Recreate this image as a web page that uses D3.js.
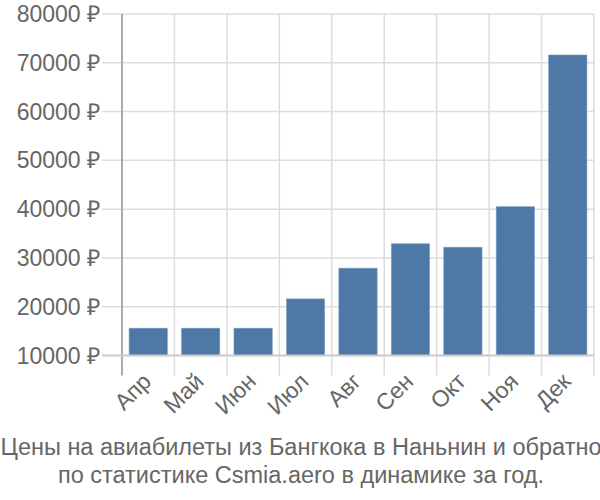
<!DOCTYPE html>
<html><head><meta charset="utf-8">
<script src="https://cdn.jsdelivr.net/npm/d3@7"></script>
<style>body{margin:0;background:#fff}text{font-family:"Liberation Sans",Arial,sans-serif}</style>
</head><body><svg id="c" width="600" height="500"></svg>
<script>
const months = ["Апр","Май","Июн","Июл","Авг","Сен","Окт","Ноя","Дек"];
const prices = [15600, 15600, 15600, 21600, 27900, 32900, 32200, 40500, 71600];
const yTicks = [10000, 20000, 30000, 40000, 50000, 60000, 70000, 80000];
const titleLines = ["Цены на авиабилеты из Бангкока в Наньнин и обратно", "по статистике Csmia.aero в динамике за год."];

const svg = d3.select("#c");
const L = 122, R = 594, T = 14, B = 355.5;
const x = d3.scaleBand().domain(months).range([L, R]).paddingInner(0.27).paddingOuter(0.135);
const y = d3.scaleLinear().domain([10000, 80000]).range([B, T]);
const grid = "#dddddd", txt = "#666666";

svg.append("g").selectAll("line").data(yTicks).join("line")
  .attr("x1", 102).attr("x2", R).attr("y1", d => y(d)).attr("y2", d => y(d))
  .attr("stroke", grid).attr("stroke-width", 1.5);
const bounds = months.map(m => x(m) - x.step()*x.paddingInner()/2).slice(1).concat([R]);
svg.append("g").selectAll("line").data(bounds).join("line")
  .attr("x1", d => d).attr("x2", d => d).attr("y1", T).attr("y2", B + 20)
  .attr("stroke", grid).attr("stroke-width", 1.5);

svg.append("g").selectAll("rect").data(prices).join("rect")
  .attr("x", (d, i) => x(months[i])).attr("width", x.bandwidth())
  .attr("y", d => y(d)).attr("height", d => B - y(d))
  .attr("fill", "#4e78a6").attr("stroke", "#7f9fc4").attr("stroke-width", 0.6);

svg.append("line").attr("x1", L).attr("x2", L).attr("y1", T).attr("y2", B + 20)
  .attr("stroke", "#aaaaaa").attr("stroke-width", 2);
svg.append("line").attr("x1", 102).attr("x2", R).attr("y1", B).attr("y2", B)
  .attr("stroke", "#cccccc").attr("stroke-width", 2);

svg.append("g").selectAll("text").data(yTicks).join("text")
  .attr("x", 100).attr("y", d => y(d)).attr("dy", "0.35em")
  .attr("text-anchor", "end").attr("font-size", 23).attr("fill", txt)
  .text(d => d + " ₽");

svg.append("g").selectAll("text").data(months).join("text")
  .attr("transform", d => `translate(${x(d) + x.bandwidth()/2 - 7},${B + 16}) rotate(-45)`)
  .attr("text-anchor", "end").attr("dy", "0.7em").attr("font-size", 23).attr("fill", txt)
  .text(d => d);

svg.append("g").selectAll("text").data(titleLines).join("text")
  .attr("x", 301).attr("y", (d, i) => 455 + i * 28)
  .attr("text-anchor", "middle").attr("font-size", 23.5).attr("fill", txt)
  .text(d => d);
</script></body></html>
